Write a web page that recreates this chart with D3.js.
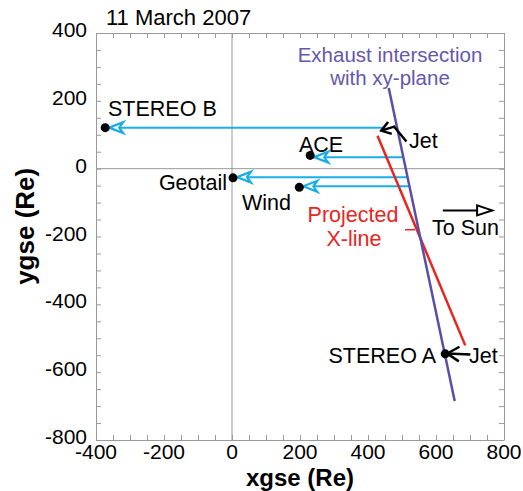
<!DOCTYPE html>
<html>
<head>
<meta charset="utf-8">
<script src="https://d3js.org/d3.v7.min.js"></script>
<style>
  body { margin: 0; background: #fff; }
  text { font-family: "Liberation Sans", Arial, Helvetica, sans-serif; }
</style>
</head>
<body>
<div class="chart"></div>
<script>
// spacecraft positions (GSE, Earth radii)
var craftNames = ["STEREO B", "ACE", "Geotail", "Wind", "STEREO A"];
var craftX = [-373, 230, 3, 198, 627];
var craftY = [121, 39, -27, -55, -546];

// cyan propagation arrows: start x on the exhaust line, y level
var flowNames = ["STEREO B", "ACE", "Geotail", "Wind"];
var flowStartX = [445, 500, 514, 520];
var flowY = [121, 34, -25, -52];

// exhaust intersection line and projected X-line
var exhaustX = [461, 655];
var exhaustY = [238, -685];
var xlineX = [428, 686];
var xlineY = [97, -521];

// jet arrows (tail ... tip) and the sun direction
var jetTopX = [513, 477, 439];
var jetTopY = [80, 124, 112];
var jetBotX = [701, 633];
var jetBotY = [-548, -545];
var sunX = [620, 765];
var sunY = [-123, -123];

// axis ticks
var xTickLabels = [-400, -200, 0, 200, 400, 600, 800];
var yTickLabels = [400, 200, 0, -200, -400, -600, -800];

var svgWidth = 523;
var svgHeight = 491;

var margin = { top: 33, left: 96, right: 19, bottom: 51 };
var width = svgWidth - margin.left - margin.right;
var height = svgHeight - margin.top - margin.bottom;

var svg = d3.select(".chart")
  .append("svg")
  .attr("width", svgWidth)
  .attr("height", svgHeight);

var chartGroup = svg.append("g")
  .attr("transform", `translate(${margin.left}, ${margin.top})`);

var x = d3.scaleLinear().domain([-400, 800]).range([0, width]);
var y = d3.scaleLinear().domain([-800, 400]).range([height, 0]);

var grey = "#9a9a9a";
var cyan = "#1aaee6";
var purple = "#5a4ea6";
var red = "#e8261e";

// zero lines
chartGroup.append("line")
  .attr("x1", x(0)).attr("x2", x(0))
  .attr("y1", 0).attr("y2", height)
  .attr("stroke", grey).attr("stroke-width", 1);
chartGroup.append("line")
  .attr("x1", 0).attr("x2", width)
  .attr("y1", y(0)).attr("y2", y(0))
  .attr("stroke", grey).attr("stroke-width", 1);

// axes with inward ticks on all four sides
var minor = d3.range(-800, 801, 50);
var xMinor = minor.filter(d => d >= -400 && d <= 800);
var yMinor = minor.filter(d => d >= -800 && d <= 400);

function styleAxis(g) {
  g.select(".domain").attr("stroke", grey);
  g.selectAll(".tick line").attr("stroke", grey);
  g.selectAll("text").remove();
}

chartGroup.append("g")
  .attr("transform", `translate(0, ${height})`)
  .call(d3.axisBottom(x).tickValues(xMinor).tickSizeInner(-5).tickSizeOuter(0))
  .call(styleAxis);
chartGroup.append("g")
  .call(d3.axisTop(x).tickValues(xMinor).tickSizeInner(-5).tickSizeOuter(0))
  .call(styleAxis);
chartGroup.append("g")
  .call(d3.axisLeft(y).tickValues(yMinor).tickSizeInner(-5).tickSizeOuter(0))
  .call(styleAxis);
chartGroup.append("g")
  .attr("transform", `translate(${width}, 0)`)
  .call(d3.axisRight(y).tickValues(yMinor).tickSizeInner(-5).tickSizeOuter(0))
  .call(styleAxis);

// tick labels
chartGroup.selectAll(".xlab")
  .data(xTickLabels)
  .enter()
  .append("text")
  .attr("x", d => x(d))
  .attr("y", height + 19)
  .attr("text-anchor", "middle")
  .attr("font-size", "21px")
  .text(d => d);

chartGroup.selectAll(".ylab")
  .data(yTickLabels)
  .enter()
  .append("text")
  .attr("x", -9)
  .attr("y", d => y(d) + 4)
  .attr("text-anchor", "end")
  .attr("font-size", "21px")
  .text(d => d);

// axis titles
chartGroup.append("text")
  .attr("x", width / 2)
  .attr("y", height + 46)
  .attr("text-anchor", "middle")
  .attr("font-size", "24px")
  .attr("font-weight", "bold")
  .text("xgse (Re)");

chartGroup.append("text")
  .attr("transform", `translate(${-62}, ${y(-170)}) rotate(-90)`)
  .attr("text-anchor", "middle")
  .attr("font-size", "26px")
  .attr("font-weight", "bold")
  .text("ygse (Re)");

// title
svg.append("text")
  .attr("x", 106)
  .attr("y", 25)
  .attr("font-size", "22px")
  .text("11 March 2007");

var line = d3.line()
  .x(d => x(d[0]))
  .y(d => y(d[1]));

// cyan arrows from the exhaust line to each spacecraft
flowNames.forEach(function(name, i) {
  var k = craftNames.indexOf(name);
  var tip = x(craftX[k]) + 4;
  chartGroup.append("path")
    .attr("d", line([[flowStartX[i], flowY[i]], [craftX[k], flowY[i]]]))
    .attr("stroke", cyan)
    .attr("stroke-width", 2)
    .attr("fill", "none");
  var yy = y(flowY[i]);
  chartGroup.append("path")
    .attr("d", `M${tip},${yy} L${tip + 14},${yy - 5.5} L${tip + 10},${yy} L${tip + 14},${yy + 5.5} Z`)
    .attr("stroke", cyan)
    .attr("stroke-width", 2.2)
    .attr("stroke-linejoin", "miter")
    .attr("fill", "#fff");
});

// projected X-line
chartGroup.append("path")
  .attr("d", line(d3.zip(xlineX, xlineY)))
  .attr("stroke", red)
  .attr("stroke-width", 2.5)
  .attr("fill", "none");

// exhaust intersection line
chartGroup.append("path")
  .attr("d", line(d3.zip(exhaustX, exhaustY)))
  .attr("stroke", purple)
  .attr("stroke-width", 2.5)
  .attr("fill", "none");

// spacecraft dots
chartGroup.selectAll("circle")
  .data(craftNames)
  .enter()
  .append("circle")
  .attr("cx", (d, i) => x(craftX[i]))
  .attr("cy", (d, i) => y(craftY[i]))
  .attr("r", 4.5)
  .attr("fill", "#000");

// jet arrows
function arrowHead(px, py, qx, qy, len, spread) {
  // head at (px,py) pointing away from (qx,qy)
  var a = Math.atan2(py - qy, px - qx);
  var p1 = [px - len * Math.cos(a - spread), py - len * Math.sin(a - spread)];
  var p2 = [px - len * Math.cos(a + spread), py - len * Math.sin(a + spread)];
  return `M${p1[0]},${p1[1]} L${px},${py} L${p2[0]},${p2[1]}`;
}

var jetTop = d3.zip(jetTopX, jetTopY);
chartGroup.append("path")
  .attr("d", line(jetTop))
  .attr("stroke", "#000").attr("stroke-width", 2.5).attr("fill", "none");
chartGroup.append("path")
  .attr("d", arrowHead(x(jetTopX[2]), y(jetTopY[2]), x(jetTopX[1]), y(jetTopY[1]), 11, 0.6))
  .attr("stroke", "#000").attr("stroke-width", 2.5).attr("fill", "none");

var jetBot = d3.zip(jetBotX, jetBotY);
chartGroup.append("path")
  .attr("d", line(jetBot))
  .attr("stroke", "#000").attr("stroke-width", 2.5).attr("fill", "none");
chartGroup.append("path")
  .attr("d", arrowHead(x(jetBotX[1]), y(jetBotY[1]), x(jetBotX[0]), y(jetBotY[0]), 14, 0.55))
  .attr("stroke", "#000").attr("stroke-width", 2.5).attr("fill", "none");

// sun direction arrow
chartGroup.append("path")
  .attr("d", line(d3.zip(sunX, sunY)))
  .attr("stroke", "#000").attr("stroke-width", 2).attr("fill", "none");
var sx = x(sunX[1]), sy = y(sunY[1]);
chartGroup.append("path")
  .attr("d", `M${sx},${sy} L${sx - 15},${sy - 5} L${sx - 15},${sy + 5} Z`)
  .attr("stroke", "#000").attr("stroke-width", 2).attr("fill", "#fff");

// small red tick beside the label
function msX(px) { return x.invert(px - margin.left); }
chartGroup.append("path")
  .attr("d", line([[msX(405), -180], [msX(415), -180]]))
  .attr("stroke", red).attr("stroke-width", 1.5);

// labels
var labels = [
  { t: "STEREO B", px: 108, py: 116, c: "#000", a: "start", s: 21.5 },
  { t: "ACE", px: 299, py: 152, c: "#000", a: "start", s: 21.5 },
  { t: "Jet", px: 409, py: 148, c: "#000", a: "start", s: 21.5 },
  { t: "Geotail", px: 227, py: 190, c: "#000", a: "end", s: 21.5 },
  { t: "Wind", px: 242, py: 210, c: "#000", a: "start", s: 21.5 },
  { t: "To Sun", px: 432, py: 235, c: "#000", a: "start", s: 21.5 },
  { t: "STEREO A", px: 436, py: 363, c: "#000", a: "end", s: 21.5 },
  { t: "Jet", px: 469, py: 363, c: "#000", a: "start", s: 21.5 },
  { t: "Exhaust intersection", px: 390, py: 62, c: "#6657ad", a: "middle", s: 20.5 },
  { t: "with xy-plane", px: 390, py: 85, c: "#6657ad", a: "middle", s: 20.5 },
  { t: "Projected", px: 353, py: 222, c: red, a: "middle", s: 21.5 },
  { t: "X-line", px: 354, py: 246, c: red, a: "middle", s: 21.5 }
];

svg.selectAll(".lbl")
  .data(labels)
  .enter()
  .append("text")
  .attr("x", d => d.px)
  .attr("y", d => d.py)
  .attr("fill", d => d.c)
  .attr("text-anchor", d => d.a)
  .attr("font-size", d => d.s + "px")
  .text(d => d.t);
</script>
</body>
</html>
